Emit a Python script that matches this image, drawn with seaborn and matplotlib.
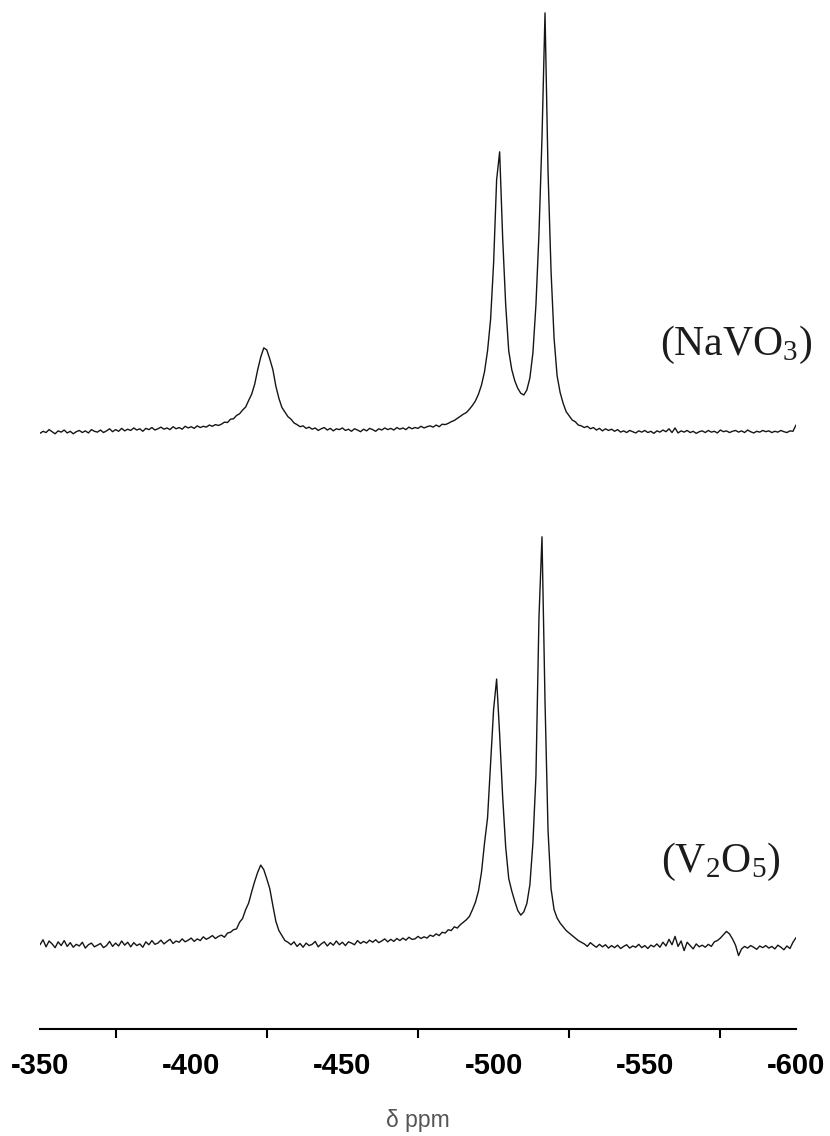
import numpy as np
import pandas as pd
import matplotlib
matplotlib.use("Agg")
import matplotlib.pyplot as plt
import seaborn as sns
from matplotlib.ticker import MultipleLocator

# ---------------- data ----------------
ppm = np.arange(-350, -601, -1)          # chemical shift grid, 1 ppm step

navo3 = [
    -0.8, -0.3, -0.6, 0.1, -0.4, -0.9, -0.2, -0.5, 0.0, -0.7,
    -0.3, -0.9, -0.4, -0.1, -0.6, -0.2, -0.7, 0.1, -0.3, -0.5,
    0.0, -0.6, -0.2, 0.3, -0.4, 0.1, -0.3, 0.4, -0.2, 0.2,
    -0.1, 0.5, 0.0, 0.3, -0.3, 0.4, 0.1, 0.6, 0.0, 0.3,
    0.7, 0.2, 0.5, 0.1, 0.8, 0.3, 0.6, 0.2, 0.9, 0.5,
    0.8, 0.4, 1.0, 0.6, 0.9, 0.7, 1.2, 0.9, 1.3, 1.1,
    1.4, 1.9, 1.8, 2.6, 2.7, 3.5, 3.9, 4.8, 5.5, 7.1,
    8.6, 11.0, 14.5, 17.5, 19.7, 19.2, 17.0, 14.5, 10.5, 7.6,
    5.4, 4.3, 3.2, 2.6, 1.7, 1.3, 0.8, 1.0, 0.4, 0.7,
    0.2, 0.5, -0.1, 0.3, 0.6, 0.0, 0.4, -0.2, 0.3, 0.1,
    0.5, -0.1, 0.2, -0.3, 0.3, 0.0, -0.4, 0.2, -0.2, 0.4,
    0.1, -0.3, 0.3, 0.0, 0.5, 0.1, 0.4, 0.0, 0.6, 0.2,
    0.5, 0.1, 0.7, 0.3, 0.6, 0.4, 0.9, 0.5, 0.8, 1.0,
    0.7, 1.2, 0.8, 1.4, 1.3, 1.6, 2.0, 2.3, 2.8, 3.3,
    3.8, 4.2, 5.0, 5.9, 7.0, 8.6, 10.8, 14.0, 19.0, 26.5,
    40.0, 60.0, 66.7, 46.0, 30.0, 19.0, 14.5, 11.8, 10.0, 8.8,
    8.4, 9.6, 12.5, 18.5, 30.0, 47.0, 70.0, 100.0, 62.0, 38.0,
    22.0, 13.0, 9.0, 6.4, 4.4, 3.4, 2.4, 2.0, 1.2, 1.0,
    0.6, 0.9, 0.3, 0.6, 0.0, 0.4, -0.2, 0.3, -0.1, 0.2,
    -0.3, 0.1, -0.5, -0.2, -0.6, -0.1, -0.4, -0.7, -0.2, -0.5,
    -0.1, -0.6, -0.3, -0.8, -0.2, -0.5, 0.0, -0.4, 0.3, -0.6,
    0.5, -0.7, -0.2, -0.5, -0.1, -0.6, -0.3, -0.8, -0.4, -0.2,
    -0.6, -0.1, -0.5, -0.3, -0.7, 0.0, -0.4, -0.2, -0.6, -0.3,
    -0.1, -0.5, -0.2, -0.6, 0.0, -0.4, -0.7, -0.3, -0.5, -0.1,
    -0.4, -0.2, -0.6, -0.3, -0.5, -0.1, -0.4, -0.6, -0.2, -0.3,
    1.2,
]

v2o5 = [
    -0.4, 0.8, -0.9, 0.5, -0.2, -1.1, 0.3, -0.6, 0.6, -0.8,
    0.1, -1.0, -0.3, -0.7, 0.2, -1.2, -0.4, 0.0, -0.9, -0.5,
    -0.1, -1.1, -0.6, 0.4, -0.8, 0.0, -0.7, 0.5, -0.5, 0.2,
    -0.9, 0.1, -0.6, -0.2, -1.0, 0.3, -0.4, 0.6, -0.3, 0.0,
    0.7, -0.2, 0.4, 0.9, -0.1, 0.5, 0.2, 1.0, 0.3, 0.7,
    1.2, 0.4, 1.0, 0.6, 1.5, 0.9, 1.3, 1.8, 1.1, 1.6,
    1.9, 1.4, 2.4, 2.6, 3.2, 3.4, 5.0, 5.9, 8.0, 9.6,
    12.3, 14.8, 17.0, 18.7, 17.6, 15.4, 13.0, 9.0, 5.2, 3.0,
    1.8, 0.6, 0.2, -0.4, 0.3, -0.8, -0.1, -1.0, 0.0, -0.6,
    -0.3, 0.4, -0.9, -0.2, 0.3, -0.7, 0.1, -0.5, 0.5, -0.4,
    0.2, -0.6, 0.3, 0.0, -0.4, 0.6, -0.1, 0.4, 0.0, 0.7,
    0.2, 0.8, 0.1, 0.5, 1.0, 0.3, 0.9, 0.4, 1.1, 0.6,
    1.2, 0.7, 1.4, 0.9, 1.0, 1.6, 1.1, 1.5, 1.2, 1.9,
    1.6, 2.2, 1.8, 2.6, 2.4, 3.2, 3.0, 3.9, 3.6, 4.4,
    5.0, 5.6, 6.4, 8.0, 9.8, 12.5, 17.0, 24.0, 30.0, 43.0,
    56.0, 63.3, 50.0, 35.0, 23.0, 15.5, 12.5, 10.0, 7.8, 6.7,
    7.5, 9.5, 14.0, 24.0, 40.0, 78.0, 97.4, 58.0, 27.0, 13.0,
    8.0, 6.0, 4.8, 3.9, 3.0, 2.4, 1.8, 1.2, 0.6, 0.2,
    -0.2, -0.8, 0.1, -0.5, -1.0, -0.3, -0.9, -0.4, -1.2, -0.6,
    -1.1, -0.5, -1.3, -0.8, -0.4, -1.2, -0.7, -1.0, -0.3, -1.1,
    -0.6, -1.3, -0.5, -0.9, -0.2, -1.0, 0.2, -0.7, 0.9, -0.4,
    1.6, -0.8, 0.5, -1.8, 0.2, -0.6, -1.4, -0.2, -0.9, -0.5,
    -1.0, -0.3, -0.8, 0.3, 0.6, 1.2, 2.0, 2.8, 2.2, 1.0,
    -0.5, -3.0, -1.4, -0.8, -1.2, -0.6, -1.0, -1.5, -0.7, -1.1,
    -0.6, -1.2, -0.8, -1.4, -0.5, -1.0, -1.6, -0.7, -1.3, 0.2,
    1.3,
]

sample_labels = [r"(NaVO$_{\mathrm{3}}$)", r"(V$_{\mathrm{2}}$O$_{\mathrm{5}}$)"]
x_ticks = [-350, -400, -450, -500, -550, -600]
x_label = "δ ppm"

# ---------------- layout / style ----------------
stack_offset = 123.0   # vertical offset of the upper trace

df = pd.concat([
    pd.DataFrame({"ppm": ppm, "intensity": np.array(navo3) + stack_offset, "sample": "NaVO3"}),
    pd.DataFrame({"ppm": ppm, "intensity": np.array(v2o5), "sample": "V2O5"}),
], ignore_index=True)

sns.set_theme(style="white")
plt.rcParams["font.family"] = ["Liberation Sans", "DejaVu Sans"]
plt.rcParams["axes.unicode_minus"] = False
plt.rcParams["mathtext.fontset"] = "custom"
plt.rcParams["mathtext.rm"] = "Liberation Serif"
plt.rcParams["mathtext.it"] = "Liberation Serif:italic"

fig = plt.figure(figsize=(8.30, 11.36), dpi=100)
ax = fig.add_axes([40 / 830, (1136 - 1029) / 1136, (796 - 40) / 830, 1029 / 1136])

sns.lineplot(data=df, x="ppm", y="intensity", hue="sample", units="sample",
             estimator=None, palette=["#151515", "#151515"], linewidth=1.0,
             legend=False, ax=ax)

ax.set_xlim(-350, -600)
ax.set_ylim(-20.6, 226.1)

for s in ["top", "left", "right"]:
    ax.spines[s].set_visible(False)
ax.spines["bottom"].set_linewidth(1.5)
ax.spines["bottom"].set_color("#000000")

ax.set_xticks(x_ticks)
ax.set_xticklabels([str(t) for t in x_ticks])
ax.xaxis.set_minor_locator(MultipleLocator(25))
ax.tick_params(axis="x", which="major", direction="out", length=11.5, width=1.5,
               color="#000000", pad=5, labelsize=21, labelcolor="#000000")
ax.tick_params(axis="x", which="minor", direction="out", length=6.5, width=1.5,
               color="#000000", bottom=True)
for lbl in ax.get_xticklabels():
    lbl.set_fontweight("bold")
ax.set_yticks([])
ax.set_xlabel("")
ax.set_ylabel("")
ax.grid(False)

# x label
fig.text(418 / 830, 1 - 1121 / 1136, x_label, ha="center", va="center",
         fontsize=16.5, color="#555555", family=["Liberation Sans", "DejaVu Sans"])

# sample labels
ax.text(-580.2, 143.4, sample_labels[0], ha="center", va="center",
        fontsize=30, color="#1c1c1c", family="Liberation Serif")
ax.text(-575.2, 19.4, sample_labels[1], ha="center", va="center",
        fontsize=30, color="#1c1c1c", family="Liberation Serif")

fig.savefig("out.png", dpi=100)
